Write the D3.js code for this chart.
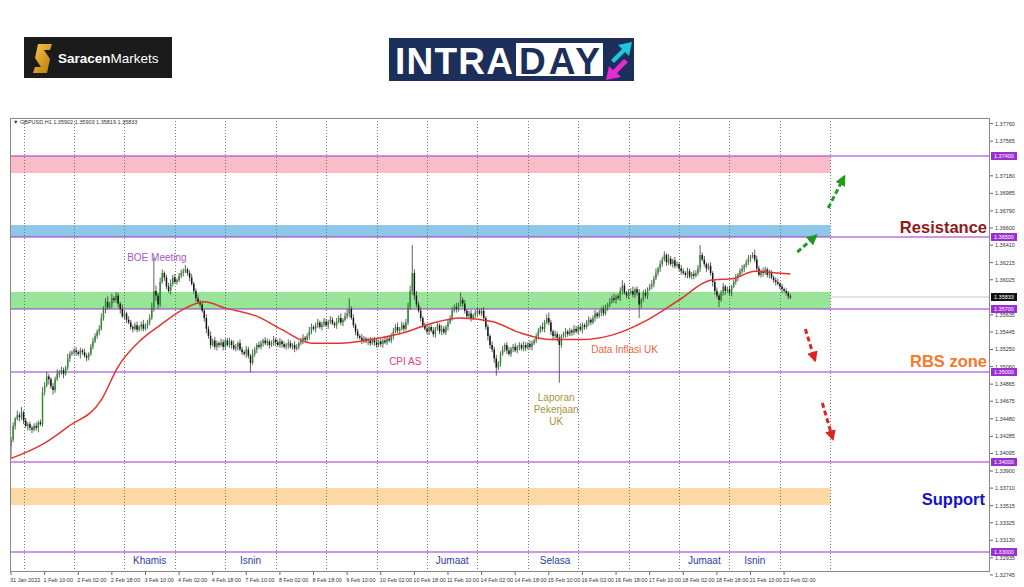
<!DOCTYPE html>
<html><head><meta charset="utf-8">
<script src="https://cdn.jsdelivr.net/npm/d3@7"></script>
<style>body{margin:0;background:#fff}svg{display:block;font-family:"Liberation Sans",Arial,sans-serif}</style>
</head><body><svg id="c" width="1024" height="587"></svg>
<script>
// ---------- DATA (prices in pips: 3425 => 1.3425) ----------
const firstOpenPip = 3418;
const closePips = [
3425,3440,3448,3452,3450, 3455,3446,3440,3442,3438, 3436,3440,3438,3444,3442, 3478,3485,3495,3492,3484,
3480,3492,3498,3500,3502, 3498,3505,3515,3520,3522, 3524,3522,3520,3524,3522, 3518,3516,3520,3528,3534,
3540,3545,3548,3560,3570, 3578,3572,3575,3582,3580, 3585,3576,3570,3562,3565, 3558,3555,3550,3548,3552,
3547,3550,3553,3548,3552, 3555,3560,3572,3590,3585, 3575,3600,3610,3605,3595, 3590,3598,3605,3600,3602,
3607,3610,3612,3614,3610, 3605,3598,3590,3582,3578, 3575,3568,3560,3548,3540, 3530,3535,3528,3532,3530,
3533,3528,3535,3530,3534, 3530,3526,3528,3532,3525, 3522,3520,3525,3518,3510, 3520,3525,3530,3528,3532,
3535,3532,3534,3530,3532, 3536,3533,3530,3534,3531, 3528,3530,3532,3528,3530, 3526,3528,3532,3535,3538,
3536,3540,3545,3550,3548, 3552,3555,3550,3553,3556, 3552,3556,3558,3554,3552, 3556,3560,3555,3558,3562,
3565,3570,3560,3552,3545, 3540,3538,3535,3537,3534, 3535,3532,3536,3533,3530, 3534,3531,3535,3533,3537,
3535,3540,3545,3550,3546, 3548,3552,3548,3555,3572, 3590,3610,3585,3575,3568, 3560,3552,3548,3545,3550,
3546,3542,3548,3552,3545, 3548,3544,3550,3555,3560, 3568,3572,3570,3575,3580, 3576,3568,3562,3565,3560,
3563,3566,3568,3565,3568, 3560,3550,3540,3530,3525, 3515,3505,3510,3520,3525, 3530,3524,3520,3526,3528,
3524,3528,3530,3526,3530, 3527,3531,3528,3532,3535, 3540,3545,3550,3548,3555, 3560,3555,3545,3540,3542,
3538,3530,3540,3542,3545, 3542,3546,3544,3548,3545, 3550,3547,3552,3550,3555, 3558,3555,3560,3565,3562,
3566,3570,3565,3572,3575, 3578,3582,3580,3584,3582, 3590,3596,3588,3585,3588, 3590,3586,3592,3588,3575,
3580,3588,3585,3592,3595, 3598,3604,3610,3615,3620, 3625,3630,3622,3626,3620, 3624,3618,3620,3615,3612,
3610,3608,3612,3606,3609, 3607,3610,3615,3630,3625, 3620,3615,3618,3610,3600, 3590,3585,3580,3588,3595,
3590,3592,3588,3595,3600, 3605,3608,3612,3615,3618, 3622,3626,3628,3630,3625, 3615,3608,3612,3610,3614,
3608,3610,3605,3602,3600, 3598,3595,3592,3590,3588, 3584,3583
];
const wickUp = [
3,4,2,5,3,6,2,3,2,3, 2,3,4,2,3,5,4,5,3,2, 4,3,5,2,4,3,2,5,3,2, 3,4,2,3,2,4,3,2,3,4,
3,2,4,5,3,4,6,3,5,2, 4,3,2,5,3,2,4,3,2,3, 4,2,3,5,2,3,4,5,37,6, 3,5,4,2,3,4,5,3,4,2,
3,4,3,5,2,3,4,2,3,4, 2,3,2,4,3,5,2,4,3,2, 4,3,2,3,4,2,5,3,2,4, 3,2,4,3,2,5,3,2,4,3,
2,4,3,2,3,4,2,3,4,2, 3,2,4,3,2,4,3,2,3,4, 2,3,5,4,2,3,4,2,3,4, 3,2,4,3,2,4,3,5,2,4,
5,12,3,4,2,3,2,4,3,2, 3,4,2,3,4,2,3,2,4,3, 2,3,4,3,5,2,4,3,4,5, 6,31,4,5,3,4,2,3,4,2,
3,4,2,3,2,4,3,2,4,3, 4,3,5,2,8,3,4,2,3,4, 2,3,4,2,3,4,2,3,2,4, 3,4,2,3,4,2,3,4,2,3,
4,2,3,2,4,3,2,4,3,2, 3,4,2,5,3,4,6,3,2,4, 3,4,2,3,4,2,3,2,4,3, 2,4,3,2,3,4,2,3,4,2,
3,2,4,3,2,4,3,5,2,3, 4,6,3,2,4,3,5,2,3,4, 2,3,4,2,3,4,3,5,2,4, 3,4,2,5,3,2,4,3,2,4,
3,2,4,3,2,4,3,4,11,3, 4,2,3,4,2,3,4,2,3,4, 2,3,4,2,3,4,2,3,4,2, 3,4,2,3,6,4,3,2,4,3,
2,4,3,2,3,4,2,3,2,3, 2,3
];
const wickDn = [
14,3,4,2,5,3,4,2,5,3, 4,2,3,5,2,3,4,2,6,3, 5,3,2,4,3,5,2,3,4,2, 3,4,2,5,3,2,4,3,2,3,
2,3,4,2,3,5,3,2,4,3, 3,4,5,2,3,4,2,3,4,2, 3,2,4,3,2,4,3,2,5,6, 5,3,2,4,3,2,4,3,2,3,
2,3,4,2,3,4,2,3,4,2, 3,2,4,5,3,4,2,3,4,3, 2,4,3,2,3,4,2,3,4,2, 3,2,4,3,10,2,3,4,2,3,
4,2,3,4,2,3,4,2,3,4, 2,3,4,2,3,4,2,3,2,4, 3,2,4,3,2,4,3,2,4,3, 2,4,3,2,3,4,2,3,4,2,
3,4,2,3,4,3,2,4,3,2, 4,3,2,4,3,2,3,4,2,3, 2,3,4,2,3,4,2,3,2,3, 3,4,5,3,2,4,3,2,3,4,
2,3,4,2,3,4,2,3,4,2, 3,2,4,3,2,4,3,2,3,4, 2,3,4,2,3,4,3,5,4,3, 5,9,3,4,2,3,4,2,3,4,
2,3,4,2,3,4,2,3,4,2, 3,4,2,3,4,2,3,4,5,3, 4,42,3,2,4,3,2,4,3,2, 3,2,4,3,2,4,3,2,4,3,
2,4,3,2,4,3,2,3,4,2, 3,4,2,3,4,2,3,4,3,15, 4,2,3,4,2,3,4,2,3,4, 3,2,4,3,2,4,3,2,3,4,
2,3,4,2,3,4,2,3,4,2, 3,4,2,3,5,4,3,8,2,3, 4,2,3,4,2,3,4,2,3,4, 2,3,4,2,3,4,2,3,4,2,
3,4,2,3,4,2,3,4,2,3, 3,2
];
// moving average, read at sample candles
const maIndex = [0,16,27,43,51,62,71,83,92,102,118,129,143,157,171,186,200,214,229,243,257,271,286,303,318,333,344,354,365,371];
const maPips  = [3404,3421,3439,3469,3506,3536,3552,3571,3578,3571,3561,3547,3532,3532,3536,3543,3554,3560,3556,3543,3536,3536,3541,3558,3580,3602,3604,3612,3610,3609];

const xLabels = ["31 Jan 2022","1 Feb 10:00","2 Feb 02:00","2 Feb 18:00","3 Feb 10:00","4 Feb 02:00","4 Feb 18:00","7 Feb 10:00","8 Feb 02:00","8 Feb 18:00","9 Feb 10:00","10 Feb 02:00","10 Feb 18:00","11 Feb 10:00","14 Feb 02:00","14 Feb 18:00","15 Feb 10:00","16 Feb 02:00","16 Feb 18:00","17 Feb 10:00","18 Feb 02:00","18 Feb 18:00","21 Feb 10:00","22 Feb 02:00"];
const daySeparators = [6,30,54,78,102,126,150,174,198,222,246,270,294,318,342,366,390];
const priceTicks = [1.37760,1.37565,1.37180,1.36985,1.36790,1.36600,1.36410,1.36215,1.36025,1.35635,1.35445,1.35250,1.35060,1.34865,1.34675,1.34480,1.34285,1.34095,1.33900,1.33710,1.33515,1.33325,1.33130,1.32935,1.32745];
const levels = [1.37400,1.36500,1.35700,1.35000,1.34000,1.33000];
const lastPrice = 1.35833;
const zoneTop    = [1.37400,1.36633,1.35889,1.33711];
const zoneBottom = [1.37211,1.36500,1.35700,1.33522];
const zoneColors = ["#f9bcc8","#8dc8ea","#93e893","#fdd9a6"];
const dayNames = ["Khamis","Isnin","Jumaat","Selasa","Jumaat","Isnin"];
const dayNameIdx = [66,114,210,259,330,354];
const headerText = "GBPUSD,H1  1.35902 1.35903 1.35819 1.35833";

// ---------- DRAW ----------
const svg = d3.select("#c");
const L=10, R=990, T=118, B=572;
const x = d3.scaleLinear().domain([0,466]).range([11,990]);
const y = d3.scaleLinear().domain([1.33,1.374]).range([552,156]);
const P = v => 1 + v/10000;

svg.append("rect").attr("width",1024).attr("height",587).attr("fill","#fff");
const defs = svg.append("defs");

// logos
const lg = svg.append("g");
lg.append("rect").attr("x",24).attr("y",37).attr("width",148).attr("height",41).attr("fill","#1b1b1b");
const gold = defs.append("linearGradient").attr("id","gold").attr("x1",0).attr("y1",0).attr("x2",1).attr("y2",1);
gold.append("stop").attr("offset","0").attr("stop-color","#f9c846");
gold.append("stop").attr("offset","1").attr("stop-color","#b8780c");
lg.append("path").attr("d","M38,44 L52,44 L50,50 L44,50 L50,59 L47,73 L33,73 L35,67 L41,67 L35,58 Z").attr("fill","url(#gold)");
const st = lg.append("text").attr("x",58).attr("y",62.5).attr("fill","#fff").attr("font-size",13.5);
st.append("tspan").attr("font-weight","bold").text("Saracen");
st.append("tspan").text("Markets");

lg.append("rect").attr("x",389).attr("y",38).attr("width",245).attr("height",43).attr("fill","#1c2e5a");
lg.append("text").attr("x",395).attr("y",73.5).attr("fill","#fff").attr("font-size",37).attr("font-weight","bold").attr("textLength",118).text("INTRA");
lg.append("rect").attr("x",516).attr("y",43).attr("width",87).attr("height",33).attr("fill","#fff");
lg.append("text").attr("x",519).attr("y",73.5).attr("fill","#1c2e5a").attr("font-size",37).attr("font-weight","bold").attr("textLength",81).text("DAY");
lg.append("path").attr("d","M611,60 L622,49 L618,45 L632,42 L629,56 L625,52 L614,63 Z").attr("fill","#1fc8d8");
lg.append("path").attr("d","M628,62 L617,73 L621,77 L606,80 L609,66 L613,70 L624,59 Z").attr("fill","#e62bd0");

// chart frame background
svg.append("rect").attr("x",L).attr("y",T).attr("width",R-L).attr("height",B-T).attr("fill","#fff");

// zones
svg.append("g").selectAll("rect").data(zoneTop).join("rect")
  .attr("x",L).attr("width",x(390)-L)
  .attr("y",d=>y(d)).attr("height",(d,i)=>y(zoneBottom[i])-y(d))
  .attr("fill",(d,i)=>zoneColors[i]);

// day separators
svg.append("g").selectAll("line").data(daySeparators).join("line")
  .attr("x1",d=>Math.round(x(d))+0.5).attr("x2",d=>Math.round(x(d))+0.5)
  .attr("y1",T).attr("y2",B)
  .attr("stroke","#777").attr("stroke-width",1).attr("stroke-dasharray","1,2");

// current price line
svg.append("line").attr("x1",L).attr("x2",R).attr("y1",y(lastPrice)).attr("y2",y(lastPrice)).attr("stroke","#c8c8c8").attr("stroke-width",1);

// level lines
svg.append("g").selectAll("line").data(levels).join("line")
  .attr("x1",L).attr("x2",R).attr("y1",d=>y(d)).attr("y2",d=>y(d))
  .attr("stroke","#9b30d0").attr("stroke-width",1.2);

// candles
const candles = closePips.map((c,i)=>{
  const o = i===0 ? firstOpenPip : closePips[i-1];
  return {i, o:P(o), c:P(c), h:P(Math.max(o,c)+(wickUp[i]||0)), l:P(Math.min(o,c)-(wickDn[i]||0))};
});
const cg = svg.append("g");
cg.selectAll("line").data(candles).join("line")
  .attr("x1",d=>x(d.i)).attr("x2",d=>x(d.i)).attr("y1",d=>y(d.h)).attr("y2",d=>y(d.l))
  .attr("stroke","#3a3a3a").attr("stroke-width",0.8);
cg.selectAll("rect").data(candles).join("rect")
  .attr("x",d=>x(d.i)-0.75).attr("width",1.5)
  .attr("y",d=>y(Math.max(d.o,d.c))).attr("height",d=>Math.max(0.8,Math.abs(y(d.o)-y(d.c))))
  .attr("fill",d=>d.c>=d.o?"#2f8f2f":"#151515");

// MA
svg.append("path").datum(maIndex.map((d,i)=>[d,P(maPips[i])]))
  .attr("d",d3.line().x(d=>x(d[0])).y(d=>y(d[1])).curve(d3.curveMonotoneX))
  .attr("fill","none").attr("stroke","#e3342f").attr("stroke-width",1.5);

// frame
svg.append("rect").attr("x",L+0.5).attr("y",T+0.5).attr("width",R-L-1).attr("height",B-T-1).attr("fill","none").attr("stroke","#888").attr("stroke-width",1);

// right axis
const ra = svg.append("g");
ra.selectAll("line").data(priceTicks).join("line")
  .attr("x1",R).attr("x2",R+3).attr("y1",d=>y(d)).attr("y2",d=>y(d)).attr("stroke","#666");
ra.selectAll("text").data(priceTicks).join("text")
  .attr("x",R+5).attr("y",d=>y(d)).attr("dy","0.35em").attr("font-size",5.5).attr("fill","#333")
  .text(d=>d.toFixed(5));
const lv = svg.append("g").selectAll("g").data(levels).join("g");
lv.append("rect").attr("x",R+1).attr("y",d=>y(d)-4).attr("width",26).attr("height",8).attr("fill","#9b30d0");
lv.append("text").attr("x",R+4).attr("y",d=>y(d)).attr("dy","0.35em").attr("font-size",5.5).attr("fill","#fff").text(d=>d.toFixed(5));
svg.append("rect").attr("x",R+1).attr("y",y(lastPrice)-4).attr("width",26).attr("height",8).attr("fill","#111");
svg.append("text").attr("x",R+4).attr("y",y(lastPrice)).attr("dy","0.35em").attr("font-size",5.5).attr("fill","#fff").text(lastPrice.toFixed(5));

// bottom axis labels
svg.append("g").selectAll("text").data(xLabels).join("text")
  .attr("x",(d,i)=>x(i*16)-1).attr("y",582).attr("font-size",5.5).attr("fill","#333").text(d=>d);
svg.append("g").selectAll("line").data(xLabels).join("line")
  .attr("x1",(d,i)=>x(i*16)).attr("x2",(d,i)=>x(i*16)).attr("y1",B).attr("y2",B+3).attr("stroke","#666");

// header
svg.append("text").attr("x",13).attr("y",124).attr("font-size",5.5).attr("fill","#333").text("▼ "+headerText);

// annotations
const ann = svg.append("g").attr("font-size",10);
ann.append("text").attr("x",x(55.3)).attr("y",y(1.36233)).attr("fill","#a05ac8").text("BOE Meeting");
ann.append("text").attr("x",x(180)).attr("y",y(1.35078)).attr("fill","#e23c8a").text("CPI AS");
ann.append("text").attr("x",x(276.2)).attr("y",y(1.35211)).attr("fill","#f0643c").text("Data Inflasi UK");
const lap = ann.append("text").attr("fill","#a8943c").attr("text-anchor","middle");
["Laporan","Pekerjaan","UK"].forEach((t,k)=>lap.append("tspan").attr("x",x(259.5)).attr("y",y(1.34678)+k*12).text(t));
ann.selectAll(".dn").data(dayNames).join("text").attr("class","dn")
  .attr("x",(d,i)=>x(dayNameIdx[i])).attr("y",563.5).attr("text-anchor","middle").attr("fill","#2d3da0").text(d=>d);

// zone titles
const zt = svg.append("g").attr("font-size",16.5).attr("font-weight","bold").attr("text-anchor","end");
zt.append("text").attr("x",987).attr("y",y(1.36544)).attr("fill","#8e1a1a").text("Resistance");
zt.append("text").attr("x",987).attr("y",y(1.35060)).attr("fill","#f37a2c").text("RBS zone");
zt.append("text").attr("x",985).attr("y",y(1.33522)).attr("fill","#1313c4").text("Support");

// arrows
[["g","#1f9a1f"],["r","#e02222"]].forEach(([id,col])=>{
  defs.append("marker").attr("id","ah"+id).attr("viewBox","0 0 10 10").attr("refX",8).attr("refY",5)
    .attr("markerWidth",3.6).attr("markerHeight",3.6).attr("orient","auto")
    .append("path").attr("d","M0,0 L10,5 L0,10 Z").attr("fill",col);
});
const arrowFrom = [[389,1.36822],[374.3,1.36333],[378.1,1.35478],[386.2,1.34656]];
const arrowTo   = [[396.6,1.37170],[383.2,1.36515],[382.7,1.35130],[391.2,1.34255]];
const arrowCol  = ["g","g","r","r"];
svg.append("g").selectAll("line").data(arrowFrom).join("line")
  .attr("x1",d=>x(d[0])).attr("y1",d=>y(d[1]))
  .attr("x2",(d,i)=>x(arrowTo[i][0])).attr("y2",(d,i)=>y(arrowTo[i][1]))
  .attr("stroke",(d,i)=>arrowCol[i]==="g"?"#1f9a1f":"#e02222").attr("stroke-width",3)
  .attr("stroke-dasharray","5,3").attr("marker-end",(d,i)=>"url(#ah"+arrowCol[i]+")");
</script></body></html>
